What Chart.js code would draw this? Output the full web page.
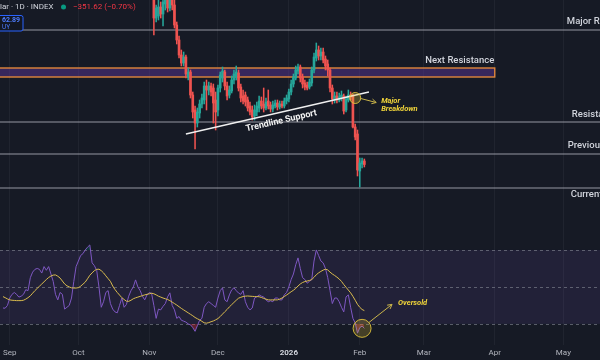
<!DOCTYPE html>
<html><head><meta charset="utf-8">
<script src="https://cdn.jsdelivr.net/npm/chart.js@4.4.1/dist/chart.umd.min.js"></script>
<style>html,body{margin:0;padding:0;background:#161a25;}canvas{display:block}</style>
</head><body>
<canvas id="c" width="600" height="360"></canvas>
<script>
// ---------- DATA ----------
const firstCandleDate = '2025-11-03';
const open = [
 69000,64200,64400,65300,64600,65600,66600,65200,66000,65500,
 63500,62000,60500,59700,60300,58300,58800,56500,55000,53700,
 54700,55600,56000,57400,57000,57400,57200,56000,55000,57200,
 58200,58800,57400,56500,56900,58000,58400,58700,57300,56400,
 56500,56000,55400,55000,54400,54800,55200,55900,55600,55200,
 55900,55500,55100,55400,55700,55300,55600,55400,55900,56100,
 56800,57600,58200,58900,59300,58300,57700,57500,57300,57700,
 59000,60200,61000,60400,60800,60100,59600,59000,57200,56000,
 56400,56000,56200,56400,55000,56000,56500,56400,53300,52600,
 48900,49600,49900];
const high = [
 69500,65500,66000,65800,66400,67000,67000,66500,66800,66000,
 63800,62400,61000,60800,60500,59200,59000,56800,55400,55200,
 56000,56600,57800,58000,57800,57700,57600,56800,57500,58800,
 59300,59000,57800,57400,58400,59000,59400,59000,57600,57000,
 56800,56300,55800,55400,55500,55800,56400,56300,57200,56200,
 57000,55800,55900,56000,56000,55900,55900,56200,56500,57100,
 58000,58600,59400,59600,59500,58600,58000,57800,58100,59300,
 60700,61700,61400,61200,61200,60400,60000,59200,57500,56800,
 56800,56700,56900,56600,56400,57000,56800,56600,53600,53000,
 50200,50200,50100];
const low = [
 62500,63800,64000,64200,63400,65000,64800,64900,65000,63200,
 61600,60200,59400,59400,58200,58000,56200,54200,51100,53300,
 54200,55200,55600,55000,56500,56400,53700,53000,54400,56800,
 57800,57000,56000,56200,56700,57600,58000,56900,55800,55600,
 55400,54900,54500,54000,54000,54400,54800,55100,54800,55000,
 55100,54800,54800,55200,55000,55100,55200,55200,55600,55800,
 56500,57300,58000,58600,57800,57200,57000,57000,57100,57400,
 58700,59900,60000,60000,59700,59000,58400,56800,55600,55700,
 55700,55800,55900,54600,54800,55800,56000,53200,52000,48400,
 47300,49200,49300];
const close = [
 64200,65200,65300,64600,65800,66600,65200,66000,65500,63500,
 62000,60500,59700,60300,58600,58800,56500,54800,53700,54800,
 55600,56200,57400,57000,57400,56800,55700,54800,57200,58500,
 58900,57400,56400,57000,58000,58600,58800,57200,56200,55900,
 55800,55200,54800,54300,55000,55400,55900,55400,55200,55800,
 55400,55100,55500,55700,55300,55600,55400,55900,56200,56800,
 57600,58300,59000,59300,58200,57600,57300,57200,57800,59000,
 60300,61000,60400,60800,60000,59400,59000,57200,56100,56400,
 56000,56300,56500,54900,56100,56500,56300,53300,52300,49000,
 49700,49900,49550];

const firstRsiDate = '2025-08-29';
const rsi = [
 38.6,38.5,40,
 44,46,47,46,44.5,45,46,48.5,48,55,
 58,59.5,60,59.5,57.5,61,59,61,57,53,
 46,43,47,46,38,39,40,44,53,61,
 64,67,68,70,71.5,72.7,63,61.5,59,50,
 39,42,47,48,41,38,36.5,36,40,44,
 39,40.5,45,48,50,53.8,50,48,45,43,
 45.7,47,46.5,40,33,38,37.6,39.5,41,44.6,
 46.8,40,37.6,33,34,32,31.5,31,30,29.5,
 28,26,29,32,33,39,41,42,41,40,
 39,44,48,49.5,43,42,45.7,48.4,49.5,48,
 46.7,46,48,42,39,37.6,38.6,44,44.6,45.7,
 45,44.6,43,42,42.5,42,44,44,43,43,
 45.7,47,50,54,57,62,65.7,60,55,54,
 52,53,54,64,70,67,64,63,60,55,
 48,41,44,44,42,39,36.5,44.6,45.7,39,
 33,30.5,25,28,28.8,27.6];
const rsiMA = [
 44.8,44.2,43.5,
 43,42.8,42.7,42.6,42.6,42.6,42.8,43.4,44.2,45.2,
 46.6,48,49.2,50.4,51.6,52.8,54,55.1,55.9,56.4,
 56.5,55.8,54.8,53.2,51.6,50.6,50,49.5,49.4,49.4,
 49.6,50.4,51.5,52.6,54.4,56.3,57.6,58.8,59.5,59.6,
 58.8,57.6,56,54.5,53,50.5,48.6,47,45.6,44.2,
 43.2,42.3,42.2,42.8,43.6,44.1,44.5,44.9,45.3,45.7,
 46,46.3,46.6,46.3,45.7,45,44.5,44,43.6,43.2,
 42.6,41.8,41,40.2,39.3,38.4,37.6,36.8,36,35.2,
 34.4,33.5,32.8,32.2,31.4,30.6,30.4,30.7,31.2,31.6,
 32.2,32.9,34,35.3,36.6,37.8,39.2,40.4,41.6,42.8,
 43.9,44.4,44.8,45,45.1,45,44.9,44.8,44.8,44.7,
 44.3,43.8,43.4,43,43,43,43,43,43.4,44,
 44.8,45.6,46.5,47.4,48.2,49.2,50.5,51.6,52.4,52.9,
 53.2,53.5,54,55.2,56.6,57.6,58.4,59.1,59.6,59.2,
 58,57,56.2,55.3,54.3,53,51.3,49.8,48.3,46.8,
 44.9,42.8,40.6,39,37.8,37.2];

const monthStarts = ['2025-09-01','2025-10-01','2025-11-01','2025-12-01','2026-01-01','2026-02-01','2026-03-01','2026-04-01','2026-05-01'];
const monthLabels = ['Sep','Oct','Nov','Dec','2026','Feb','Mar','Apr','May'];

const levelNames  = ['Major Resistance','Resistance','Previous Support','Current Support'];
const levelValues = [63000, 53800, 50600, 47200];
const nextResistanceZone = [58300, 59200];
const zoneEndDate = '2026-04-01';
const trendlineDates  = ['2025-11-17','2026-02-05'];
const trendlineValues = [52600, 56800];
const breakdownPoint = {date:'2026-01-30', value:56200};
const oversoldPoint  = {date:'2026-02-02', value:27.6};
const rsiLevels = [70, 50, 30];

// ---------- HELPERS ----------
const DAY0 = Date.UTC(2025, 8, 1);
function dayIndex(iso){const [Y,M,D]=iso.split('-').map(Number);return Math.round((Date.UTC(Y,M-1,D)-DAY0)/86400000);}
const c0 = dayIndex(firstCandleDate);
const candleDays = open.map((_,i)=>c0+i);
const r0 = dayIndex(firstRsiDate);
const rsiDays = rsi.map((_,i)=>r0+i);
const monthDays = monthStarts.map(dayIndex);
const X_MIN = -3, X_MAX = 258;
const UP='#26a69a', DOWN='#ef5350', BG='#161a25';
const isUp = i => close[i] >= open[i];

const datasets = [];
datasets.push({type:'line', yAxisID:'rsi', data: rsiMA.map((v,i)=>({x:rsiDays[i],y:v})), borderColor:'#d9bb4e', borderWidth:1, pointRadius:0, order:0});
datasets.push({type:'line', yAxisID:'rsi', data: rsi.map((v,i)=>({x:rsiDays[i],y:v})), borderColor:'#7e57c2', borderWidth:1, pointRadius:0, order:1,
  fill:{target:{value:30}, above:'rgba(0,0,0,0)', below:'rgba(242,54,69,0.35)'}});
datasets.push({type:'line', yAxisID:'rsi', data: rsi.map((v,i)=>({x:rsiDays[i],y:v})), borderWidth:0, borderColor:'rgba(0,0,0,0)', pointRadius:0, order:2,
  fill:{target:{value:70}, above:'rgba(8,153,129,0.25)', below:'rgba(0,0,0,0)'}});
datasets.push({type:'line', yAxisID:'y', data: trendlineDates.map((d,i)=>({x:dayIndex(d),y:trendlineValues[i]})), borderColor:'#f0f0f0', borderWidth:1.3, pointRadius:0, order:3});
datasets.push({type:'bar', yAxisID:'y', data: open.map((o,i)=>({x:candleDays[i], y:[o, close[i]]})), backgroundColor: ctx=>isUp(ctx.dataIndex)?UP:DOWN, barThickness:2, minBarLength:1, grouped:false, order:4});
datasets.push({type:'bar', yAxisID:'y', data: high.map((h,i)=>({x:candleDays[i], y:[low[i], h]})), backgroundColor: ctx=>isUp(ctx.dataIndex)?UP:DOWN, barThickness:0.9, grouped:false, order:5});
levelValues.forEach((v,i)=>datasets.push({type:'line', yAxisID:'y', clip:false, data:[{x:X_MIN-5,y:v},{x:X_MAX+5,y:v}], borderColor:'rgba(180,183,192,0.8)', borderWidth:1.2, pointRadius:0, order:6+i}));

function arrow(ctx,x1,y1,x2,y2,color){
  ctx.strokeStyle=color; ctx.lineWidth=1; ctx.beginPath(); ctx.moveTo(x1,y1); ctx.lineTo(x2,y2); ctx.stroke();
  const a=Math.atan2(y2-y1,x2-x1), L=5;
  ctx.beginPath(); ctx.moveTo(x2-L*Math.cos(a-0.5),y2-L*Math.sin(a-0.5)); ctx.lineTo(x2,y2); ctx.lineTo(x2-L*Math.cos(a+0.5),y2-L*Math.sin(a+0.5)); ctx.stroke();
}

const annot = {
  id:'annot',
  beforeDraw(chart){const {ctx,width,height}=chart;ctx.save();ctx.fillStyle=BG;ctx.fillRect(0,0,width,height);ctx.restore();},
  beforeDatasetsDraw(chart){
    const {ctx,scales}=chart; const x=scales.x, y=scales.y, r=scales.rsi;
    ctx.save();
    const t=r.getPixelForValue(70), b=r.getPixelForValue(30);
    ctx.fillStyle='rgba(126,87,194,0.12)'; ctx.fillRect(0,t,chart.width,b-t);
    ctx.setLineDash([3,3]); ctx.strokeStyle='rgba(135,138,150,0.6)'; ctx.lineWidth=1;
    rsiLevels.forEach(v=>{const py=Math.round(r.getPixelForValue(v))+0.5;ctx.beginPath();ctx.moveTo(0,py);ctx.lineTo(chart.width,py);ctx.stroke();});
    ctx.setLineDash([]);
    const zt=y.getPixelForValue(nextResistanceZone[1]), zb=y.getPixelForValue(nextResistanceZone[0]), zr=x.getPixelForValue(dayIndex(zoneEndDate));
    ctx.fillStyle='rgba(96,56,160,0.45)'; ctx.fillRect(-2,zt,zr+2,zb-zt);
    ctx.strokeStyle='#e0863b'; ctx.lineWidth=1.4; ctx.strokeRect(-2,zt,zr+2,zb-zt);
    ctx.restore();
  },
  afterDatasetsDraw(chart){
    const {ctx,scales}=chart; const x=scales.x, y=scales.y, r=scales.rsi;
    ctx.save();
    ctx.textBaseline='middle'; ctx.textAlign='left';
    ctx.fillStyle='#d1d4dc'; ctx.font='500 9.5px Roboto';
    const lblDays=[243.5,245.7,243.9,245.2], lblDy=[-8,-7,-8,7];
    levelValues.forEach((v,i)=>ctx.fillText(levelNames[i], x.getPixelForValue(lblDays[i]), y.getPixelForValue(v)+lblDy[i]));
    ctx.textAlign='center';
    ctx.fillText('Next Resistance', x.getPixelForValue(196.7), y.getPixelForValue(nextResistanceZone[1])-7);
    ctx.save(); ctx.translate(x.getPixelForValue(118.7), y.getPixelForValue(53900)); ctx.rotate(-13*Math.PI/180);
    ctx.font='bold 9px Roboto'; ctx.fillStyle='#f2f2f2'; ctx.fillText('Trendline Support',0,0); ctx.restore();
    const bx=x.getPixelForValue(dayIndex(breakdownPoint.date)), by=y.getPixelForValue(breakdownPoint.value);
    ctx.beginPath(); ctx.arc(bx,by,5.5,0,Math.PI*2); ctx.fillStyle='rgba(235,200,50,0.28)'; ctx.fill(); ctx.strokeStyle='rgba(225,195,60,0.9)'; ctx.lineWidth=1; ctx.stroke();
    arrow(ctx, bx+5.5, by+0.5, bx+21, by+4.5, '#c9b44a');
    ctx.textAlign='left'; ctx.fillStyle='#f0d43a'; ctx.font='italic bold 7.5px Roboto';
    ctx.fillText('Major', bx+26, by+3); ctx.fillText('Breakdown', bx+26, by+11);
    const ox=x.getPixelForValue(dayIndex(oversoldPoint.date)), oy=r.getPixelForValue(oversoldPoint.value);
    ctx.beginPath(); ctx.arc(ox,oy,9,0,Math.PI*2); ctx.fillStyle='rgba(235,200,50,0.22)'; ctx.fill(); ctx.strokeStyle='rgba(225,195,60,0.9)'; ctx.stroke();
    arrow(ctx, ox+7, oy-6, ox+30, oy-24, '#c9b44a');
    ctx.fillStyle='#f0d43a'; ctx.fillText('Oversold', ox+36, oy-25);
    ctx.font='8px Roboto'; ctx.fillStyle='#d1d4dc'; ctx.fillText('lar · 1D · INDEX', 0, 7);
    ctx.beginPath(); ctx.arc(63.5,7,2.5,0,Math.PI*2); ctx.fillStyle='#089981'; ctx.fill();
    ctx.fillStyle='#f23645'; ctx.fillText('\u2212351.62 (\u22120.70%)', 73, 7);
    ctx.fillStyle='#131722'; ctx.strokeStyle='#2962ff'; ctx.lineWidth=1;
    ctx.beginPath(); ctx.roundRect(-3,15.5,26,15.5,2); ctx.fill(); ctx.stroke();
    ctx.fillStyle='#4d7cff'; ctx.font='bold 7px Roboto'; ctx.fillText('62.89',2,19.8);
    ctx.font='6.5px Roboto'; ctx.fillText('UY',2,27);
    ctx.restore();
  }
};

new Chart(document.getElementById('c'), {
  type:'line',
  data:{datasets},
  options:{
    responsive:false, animation:false, devicePixelRatio:1,
    layout:{autoPadding:false, padding:{left:0,right:0,top:0,bottom:0}},
    plugins:{legend:{display:false}, tooltip:{enabled:false}},
    scales:{
      x:{type:'linear', min:X_MIN, max:X_MAX, offset:false,
        grid:{color:'rgba(42,46,57,0.55)', drawTicks:false, offset:false}, border:{display:false},
        afterBuildTicks: s=>{ s.ticks = monthDays.map(v=>({value:v})); },
        afterFit: s=>{ s.height = 15; },
        ticks:{padding:3, autoSkip:false, maxRotation:0,
          callback:(v,i)=>monthLabels[i],
          color: c=>c.index===4?'#d1d4dc':'#b2b5be',
          font: c=>({family:'Roboto', size:8, weight: c.index===4?'bold':'normal'})}},
      y:{type:'linear', position:'left', stack:'panes', stackWeight:237, weight:2, min:42300, max:66000, display:false},
      rsi:{type:'linear', position:'left', stack:'panes', stackWeight:108, weight:1, min:18.6, max:77, display:false}
    }
  },
  plugins:[annot]
});
</script>
</body></html>
